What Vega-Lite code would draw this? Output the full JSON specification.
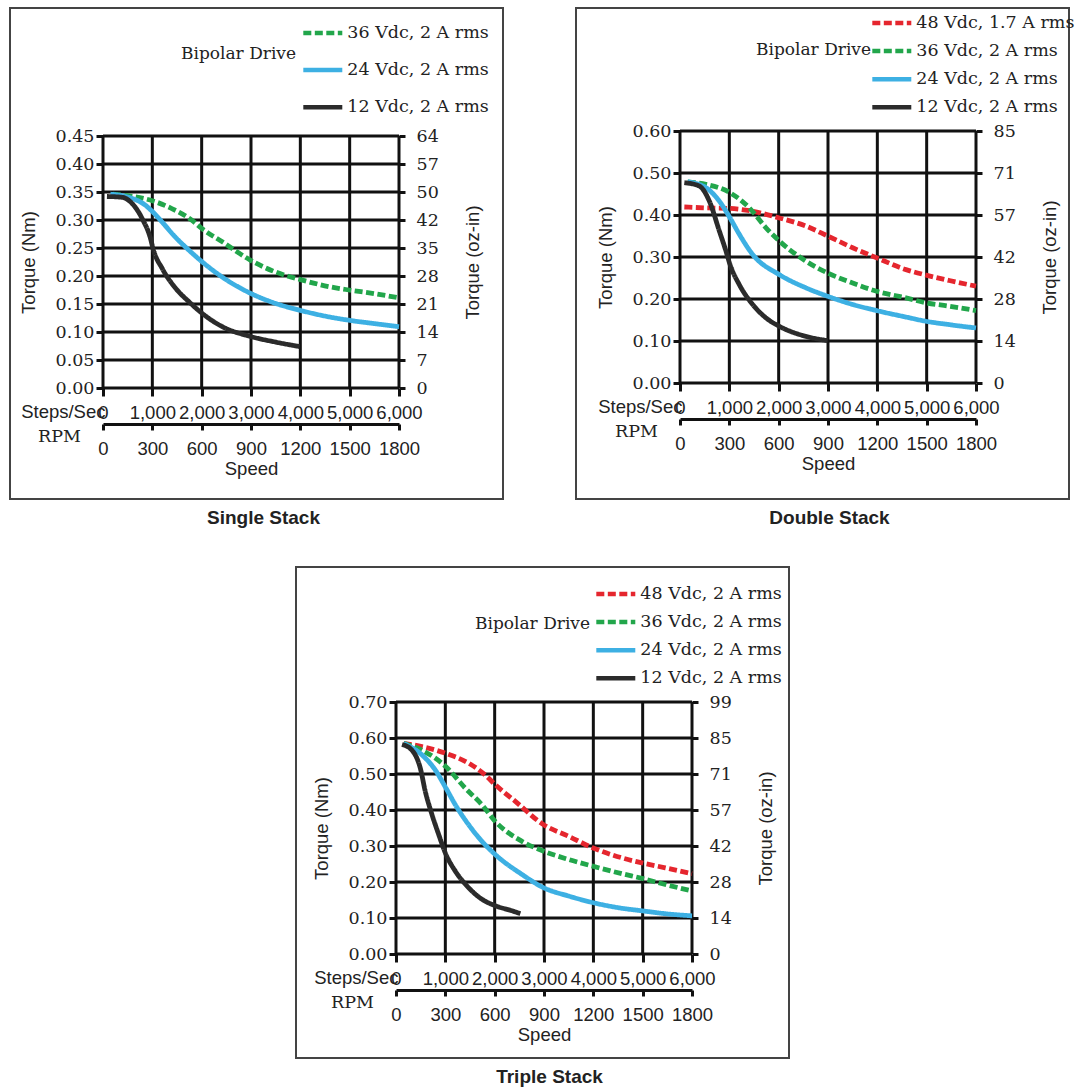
{
  "$schema": "https://vega.github.io/schema/vega-lite/v6.json",
  "background": "white",
  "padding": {"left": 9, "top": 7, "right": 0, "bottom": 0},
  "config": {
    "view": {"stroke": "#444", "strokeWidth": 2},
    "axis": {"grid": false, "labelColor": "#222", "titleColor": "#222", "tickColor": "#111", "domainColor": "#111", "labelFlush": false, "labelOverlap": false, "labelBound": false},
    "font": "Liberation Sans"
  },
  "bounds": "full",
  "center": true,
  "spacing": 37,
  "resolve": {"scale": {"color": "independent", "strokeDash": "independent"}},
  "vconcat": [
    {
      "hconcat": [
        {
          "width": 493, "height": 491,
          "title": {"text": "Single Stack", "orient": "bottom", "frame": "group", "offset": 10, "dx": 7, "font": "Liberation Sans", "fontSize": 19, "fontWeight": "bold", "color": "#222"},
          "resolve": {"axis": {"x": "independent", "y": "independent"}},
          "layer": [
            {
              "data": {"values": [{"steps": 0}, {"steps": 1000}, {"steps": 2000}, {"steps": 3000}, {"steps": 4000}, {"steps": 5000}, {"steps": 6000}]},
              "mark": {"type": "rule", "color": "#111", "strokeWidth": 3},
              "encoding": {
                "x": {"field": "steps", "type": "quantitative", "scale": {"domain": [0, 6000], "range": [93, 389], "nice": false, "zero": false},
                  "axis": {"orient": "bottom", "offset": -75, "values": [0, 1000, 2000, 3000, 4000, 5000, 6000], "labelExpr": "format(datum.value * 0.3, 'd')", "domain": true, "domainWidth": 3, "ticks": true, "tickSize": 6, "tickWidth": 3, "labelPadding": 9.5, "labelFont": "Liberation Sans", "labelFontSize": 18.5, "title": "Speed", "titleX": 241, "titleY": 44, "titleAlign": "center", "titleBaseline": "middle", "titleFont": "Liberation Sans", "titleFontSize": 18.5, "titleFontWeight": "normal"}},
                "y": {"datum": 0, "type": "quantitative", "axis": null},
                "y2": {"datum": 0.45}
              }
            },
            {
              "data": {"values": [{"nm": 0}, {"nm": 0.05}, {"nm": 0.1}, {"nm": 0.15}, {"nm": 0.2}, {"nm": 0.25}, {"nm": 0.3}, {"nm": 0.35}, {"nm": 0.4}, {"nm": 0.45}]},
              "mark": {"type": "rule", "color": "#111", "strokeWidth": 3},
              "encoding": {
                "y": {"field": "nm", "type": "quantitative",
                  "axis": {"orient": "right", "offset": -104, "values": [0, 0.05, 0.1, 0.15, 0.2, 0.25, 0.3, 0.35, 0.4, 0.45], "labelExpr": "format(datum.value * 141.6, 'd')", "domain": false, "tickSize": 6, "tickWidth": 3, "labelPadding": 11, "labelFont": "DejaVu Serif", "labelFontSize": 17.5, "title": "Torque (oz-in)", "titleX": 73, "titleAngle": -90, "titleAlign": "center", "titleBaseline": "middle", "titleFont": "Liberation Sans", "titleFontSize": 18.5, "titleFontWeight": "normal"}},
                "x": {"datum": 0, "type": "quantitative",
                  "axis": {"orient": "bottom", "offset": -75, "labels": false, "ticks": false, "domain": false, "title": "RPM", "titleX": 49, "titleY": 12, "titleAlign": "center", "titleBaseline": "middle", "titleFont": "DejaVu Serif", "titleFontSize": 17.5, "titleFontWeight": "normal"}},
                "x2": {"datum": 6000}
              }
            },
            {
              "data": {"values": [
                {"series": "36 Vdc, 2 A rms", "steps": 200, "torque": 0.346},
                {"series": "36 Vdc, 2 A rms", "steps": 527, "torque": 0.343},
                {"series": "36 Vdc, 2 A rms", "steps": 1014, "torque": 0.334},
                {"series": "36 Vdc, 2 A rms", "steps": 1405, "torque": 0.32},
                {"series": "36 Vdc, 2 A rms", "steps": 1811, "torque": 0.299},
                {"series": "36 Vdc, 2 A rms", "steps": 2014, "torque": 0.284},
                {"series": "36 Vdc, 2 A rms", "steps": 2419, "torque": 0.261},
                {"series": "36 Vdc, 2 A rms", "steps": 2993, "torque": 0.228},
                {"series": "36 Vdc, 2 A rms", "steps": 3500, "torque": 0.207},
                {"series": "36 Vdc, 2 A rms", "steps": 3986, "torque": 0.194},
                {"series": "36 Vdc, 2 A rms", "steps": 4581, "torque": 0.181},
                {"series": "36 Vdc, 2 A rms", "steps": 4986, "torque": 0.175},
                {"series": "36 Vdc, 2 A rms", "steps": 5459, "torque": 0.169},
                {"series": "36 Vdc, 2 A rms", "steps": 6000, "torque": 0.161},
                {"series": "24 Vdc, 2 A rms", "steps": 150, "torque": 0.346},
                {"series": "24 Vdc, 2 A rms", "steps": 527, "torque": 0.3405},
                {"series": "24 Vdc, 2 A rms", "steps": 865, "torque": 0.326},
                {"series": "24 Vdc, 2 A rms", "steps": 1014, "torque": 0.314},
                {"series": "24 Vdc, 2 A rms", "steps": 1203, "torque": 0.296},
                {"series": "24 Vdc, 2 A rms", "steps": 1439, "torque": 0.272},
                {"series": "24 Vdc, 2 A rms", "steps": 1743, "torque": 0.246},
                {"series": "24 Vdc, 2 A rms", "steps": 2014, "torque": 0.225},
                {"series": "24 Vdc, 2 A rms", "steps": 2419, "torque": 0.198},
                {"series": "24 Vdc, 2 A rms", "steps": 2993, "torque": 0.169},
                {"series": "24 Vdc, 2 A rms", "steps": 3500, "torque": 0.151},
                {"series": "24 Vdc, 2 A rms", "steps": 3986, "torque": 0.139},
                {"series": "24 Vdc, 2 A rms", "steps": 4581, "torque": 0.127},
                {"series": "24 Vdc, 2 A rms", "steps": 4986, "torque": 0.121},
                {"series": "24 Vdc, 2 A rms", "steps": 5459, "torque": 0.1155},
                {"series": "24 Vdc, 2 A rms", "steps": 6000, "torque": 0.1095},
                {"series": "12 Vdc, 2 A rms", "steps": 80, "torque": 0.342},
                {"series": "12 Vdc, 2 A rms", "steps": 392, "torque": 0.3405},
                {"series": "12 Vdc, 2 A rms", "steps": 595, "torque": 0.329},
                {"series": "12 Vdc, 2 A rms", "steps": 797, "torque": 0.302},
                {"series": "12 Vdc, 2 A rms", "steps": 966, "torque": 0.266},
                {"series": "12 Vdc, 2 A rms", "steps": 1014, "torque": 0.249},
                {"series": "12 Vdc, 2 A rms", "steps": 1203, "torque": 0.213},
                {"series": "12 Vdc, 2 A rms", "steps": 1473, "torque": 0.178},
                {"series": "12 Vdc, 2 A rms", "steps": 1743, "torque": 0.154},
                {"series": "12 Vdc, 2 A rms", "steps": 2014, "torque": 0.133},
                {"series": "12 Vdc, 2 A rms", "steps": 2419, "torque": 0.1095},
                {"series": "12 Vdc, 2 A rms", "steps": 2993, "torque": 0.092},
                {"series": "12 Vdc, 2 A rms", "steps": 3500, "torque": 0.082},
                {"series": "12 Vdc, 2 A rms", "steps": 3986, "torque": 0.074}
              ]},
              "mark": {"type": "line", "strokeWidth": 4.8, "interpolate": "monotone"},
              "encoding": {
                "x": {"field": "steps", "type": "quantitative", "scale": {"domain": [0, 6000], "range": [93, 389], "nice": false, "zero": false},
                  "axis": {"orient": "bottom", "offset": -111, "values": [0, 1000, 2000, 3000, 4000, 5000, 6000], "format": ",d", "domain": false, "tickSize": 8, "tickWidth": 3, "labelPadding": 7, "labelFont": "Liberation Sans", "labelFontSize": 18.5, "title": "Steps/Sec", "titleX": 95, "titleY": 23, "titleAlign": "right", "titleBaseline": "middle", "titleFont": "Liberation Sans", "titleFontSize": 18.5, "titleFontWeight": "normal"}},
                "y": {"field": "torque", "type": "quantitative", "scale": {"domain": [0, 0.45], "range": [380, 128], "nice": false, "zero": false},
                  "axis": {"orient": "left", "offset": -93, "values": [0, 0.05, 0.1, 0.15, 0.2, 0.25, 0.3, 0.35, 0.4, 0.45], "format": ".2f", "domain": false, "tickSize": 7, "tickWidth": 3, "labelPadding": 2, "labelFont": "DejaVu Serif", "labelFontSize": 17.5, "title": "Torque (Nm)", "titleX": -75, "titleAngle": -90, "titleAlign": "center", "titleBaseline": "middle", "titleFont": "Liberation Sans", "titleFontSize": 18.5, "titleFontWeight": "normal"}},
                "color": {"field": "series", "type": "nominal",
                  "scale": {"domain": ["36 Vdc, 2 A rms", "24 Vdc, 2 A rms", "12 Vdc, 2 A rms"], "range": ["#22a64b", "#3db0e3", "#2b2b2b"]},
                  "legend": {"orient": "none", "legendX": 171, "legendY": 13, "title": "Bipolar Drive", "titleOrient": "left", "titleAnchor": "middle", "titleBaseline": "line-bottom", "titleLineHeight": 29, "titlePadding": 13.8, "titleFont": "DejaVu Serif", "titleFontSize": 17, "titleFontWeight": "normal", "titleColor": "#222", "labelFont": "DejaVu Serif", "labelFontSize": 17.5, "labelColor": "#222", "labelOffset": 12.5, "labelLimit": 300, "symbolType": "M-2,0H2", "symbolSize": 380, "symbolStrokeWidth": 4.5, "rowPadding": 16.1, "padding": 0}},
                "strokeDash": {"field": "series", "type": "nominal",
                  "scale": {"domain": ["36 Vdc, 2 A rms", "24 Vdc, 2 A rms", "12 Vdc, 2 A rms"], "range": [[8, 3.5], [1, 0], [1, 0]]}}
              }
            }
          ]
        },
        {
          "width": 493, "height": 491,
          "title": {"text": "Double Stack", "orient": "bottom", "frame": "group", "offset": 10, "dx": 7, "font": "Liberation Sans", "fontSize": 19, "fontWeight": "bold", "color": "#222"},
          "resolve": {"axis": {"x": "independent", "y": "independent"}},
          "layer": [
            {
              "data": {"values": [{"steps": 0}, {"steps": 1000}, {"steps": 2000}, {"steps": 3000}, {"steps": 4000}, {"steps": 5000}, {"steps": 6000}]},
              "mark": {"type": "rule", "color": "#111", "strokeWidth": 3},
              "encoding": {
                "x": {"field": "steps", "type": "quantitative", "scale": {"domain": [0, 6000], "range": [104, 400], "nice": false, "zero": false},
                  "axis": {"orient": "bottom", "offset": -80, "values": [0, 1000, 2000, 3000, 4000, 5000, 6000], "labelExpr": "format(datum.value * 0.3, 'd')", "domain": true, "domainWidth": 3, "ticks": true, "tickSize": 6, "tickWidth": 3, "labelPadding": 9.5, "labelFont": "Liberation Sans", "labelFontSize": 18.5, "title": "Speed", "titleX": 252, "titleY": 44, "titleAlign": "center", "titleBaseline": "middle", "titleFont": "Liberation Sans", "titleFontSize": 18.5, "titleFontWeight": "normal"}},
                "y": {"datum": 0, "type": "quantitative", "axis": null},
                "y2": {"datum": 0.6}
              }
            },
            {
              "data": {"values": [{"nm": 0}, {"nm": 0.1}, {"nm": 0.2}, {"nm": 0.3}, {"nm": 0.4}, {"nm": 0.5}, {"nm": 0.6}]},
              "mark": {"type": "rule", "color": "#111", "strokeWidth": 3},
              "encoding": {
                "y": {"field": "nm", "type": "quantitative",
                  "axis": {"orient": "right", "offset": -93, "values": [0, 0.1, 0.2, 0.3, 0.4, 0.5, 0.6], "labelExpr": "format(datum.value * 141.6, 'd')", "domain": false, "tickSize": 6, "tickWidth": 3, "labelPadding": 11, "labelFont": "DejaVu Serif", "labelFontSize": 17.5, "title": "Torque (oz-in)", "titleX": 73, "titleAngle": -90, "titleAlign": "center", "titleBaseline": "middle", "titleFont": "Liberation Sans", "titleFontSize": 18.5, "titleFontWeight": "normal"}},
                "x": {"datum": 0, "type": "quantitative",
                  "axis": {"orient": "bottom", "offset": -80, "labels": false, "ticks": false, "domain": false, "title": "RPM", "titleX": 60, "titleY": 12, "titleAlign": "center", "titleBaseline": "middle", "titleFont": "DejaVu Serif", "titleFontSize": 17.5, "titleFontWeight": "normal"}},
                "x2": {"datum": 6000}
              }
            },
            {
              "data": {"values": [
                {"series": "48 Vdc, 1.7 A rms", "steps": 88, "torque": 0.419},
                {"series": "48 Vdc, 1.7 A rms", "steps": 527, "torque": 0.417},
                {"series": "48 Vdc, 1.7 A rms", "steps": 1014, "torque": 0.4156},
                {"series": "48 Vdc, 1.7 A rms", "steps": 1473, "torque": 0.409},
                {"series": "48 Vdc, 1.7 A rms", "steps": 2014, "torque": 0.393},
                {"series": "48 Vdc, 1.7 A rms", "steps": 2554, "torque": 0.3735},
                {"series": "48 Vdc, 1.7 A rms", "steps": 2993, "torque": 0.35},
                {"series": "48 Vdc, 1.7 A rms", "steps": 3500, "torque": 0.322},
                {"series": "48 Vdc, 1.7 A rms", "steps": 3986, "torque": 0.298},
                {"series": "48 Vdc, 1.7 A rms", "steps": 4581, "torque": 0.27},
                {"series": "48 Vdc, 1.7 A rms", "steps": 4986, "torque": 0.257},
                {"series": "48 Vdc, 1.7 A rms", "steps": 5459, "torque": 0.244},
                {"series": "48 Vdc, 1.7 A rms", "steps": 6000, "torque": 0.2305},
                {"series": "36 Vdc, 2 A rms", "steps": 155, "torque": 0.479},
                {"series": "36 Vdc, 2 A rms", "steps": 527, "torque": 0.473},
                {"series": "36 Vdc, 2 A rms", "steps": 1014, "torque": 0.453},
                {"series": "36 Vdc, 2 A rms", "steps": 1405, "torque": 0.417},
                {"series": "36 Vdc, 2 A rms", "steps": 1743, "torque": 0.3695},
                {"series": "36 Vdc, 2 A rms", "steps": 2014, "torque": 0.338},
                {"series": "36 Vdc, 2 A rms", "steps": 2554, "torque": 0.29},
                {"series": "36 Vdc, 2 A rms", "steps": 2993, "torque": 0.262},
                {"series": "36 Vdc, 2 A rms", "steps": 3500, "torque": 0.238},
                {"series": "36 Vdc, 2 A rms", "steps": 3986, "torque": 0.2185},
                {"series": "36 Vdc, 2 A rms", "steps": 4581, "torque": 0.2026},
                {"series": "36 Vdc, 2 A rms", "steps": 4986, "torque": 0.191},
                {"series": "36 Vdc, 2 A rms", "steps": 5459, "torque": 0.183},
                {"series": "36 Vdc, 2 A rms", "steps": 6000, "torque": 0.1725},
                {"series": "24 Vdc, 2 A rms", "steps": 155, "torque": 0.479},
                {"series": "24 Vdc, 2 A rms", "steps": 527, "torque": 0.465},
                {"series": "24 Vdc, 2 A rms", "steps": 797, "torque": 0.433},
                {"series": "24 Vdc, 2 A rms", "steps": 1014, "torque": 0.393},
                {"series": "24 Vdc, 2 A rms", "steps": 1203, "torque": 0.354},
                {"series": "24 Vdc, 2 A rms", "steps": 1473, "torque": 0.306},
                {"series": "24 Vdc, 2 A rms", "steps": 2014, "torque": 0.258},
                {"series": "24 Vdc, 2 A rms", "steps": 2554, "torque": 0.2265},
                {"series": "24 Vdc, 2 A rms", "steps": 2993, "torque": 0.2066},
                {"series": "24 Vdc, 2 A rms", "steps": 3500, "torque": 0.187},
                {"series": "24 Vdc, 2 A rms", "steps": 3986, "torque": 0.1725},
                {"series": "24 Vdc, 2 A rms", "steps": 4581, "torque": 0.157},
                {"series": "24 Vdc, 2 A rms", "steps": 4986, "torque": 0.147},
                {"series": "24 Vdc, 2 A rms", "steps": 5459, "torque": 0.139},
                {"series": "24 Vdc, 2 A rms", "steps": 6000, "torque": 0.131},
                {"series": "12 Vdc, 2 A rms", "steps": 88, "torque": 0.477},
                {"series": "12 Vdc, 2 A rms", "steps": 392, "torque": 0.469},
                {"series": "12 Vdc, 2 A rms", "steps": 595, "torque": 0.433},
                {"series": "12 Vdc, 2 A rms", "steps": 797, "torque": 0.362},
                {"series": "12 Vdc, 2 A rms", "steps": 932, "torque": 0.314},
                {"series": "12 Vdc, 2 A rms", "steps": 1014, "torque": 0.282},
                {"series": "12 Vdc, 2 A rms", "steps": 1203, "torque": 0.234},
                {"series": "12 Vdc, 2 A rms", "steps": 1473, "torque": 0.187},
                {"series": "12 Vdc, 2 A rms", "steps": 1743, "torque": 0.155},
                {"series": "12 Vdc, 2 A rms", "steps": 2014, "torque": 0.135},
                {"series": "12 Vdc, 2 A rms", "steps": 2554, "torque": 0.111},
                {"series": "12 Vdc, 2 A rms", "steps": 2993, "torque": 0.101}
              ]},
              "mark": {"type": "line", "strokeWidth": 4.8, "interpolate": "monotone"},
              "encoding": {
                "x": {"field": "steps", "type": "quantitative", "scale": {"domain": [0, 6000], "range": [104, 400], "nice": false, "zero": false},
                  "axis": {"orient": "bottom", "offset": -116, "values": [0, 1000, 2000, 3000, 4000, 5000, 6000], "format": ",d", "domain": false, "tickSize": 8, "tickWidth": 3, "labelPadding": 7, "labelFont": "Liberation Sans", "labelFontSize": 18.5, "title": "Steps/Sec", "titleX": 106, "titleY": 23, "titleAlign": "right", "titleBaseline": "middle", "titleFont": "Liberation Sans", "titleFontSize": 18.5, "titleFontWeight": "normal"}},
                "y": {"field": "torque", "type": "quantitative", "scale": {"domain": [0, 0.6], "range": [375, 123], "nice": false, "zero": false},
                  "axis": {"orient": "left", "offset": -104, "values": [0, 0.1, 0.2, 0.3, 0.4, 0.5, 0.6], "format": ".2f", "domain": false, "tickSize": 7, "tickWidth": 3, "labelPadding": 2, "labelFont": "DejaVu Serif", "labelFontSize": 17.5, "title": "Torque (Nm)", "titleX": -75, "titleAngle": -90, "titleAlign": "center", "titleBaseline": "middle", "titleFont": "Liberation Sans", "titleFontSize": 18.5, "titleFontWeight": "normal"}},
                "color": {"field": "series", "type": "nominal",
                  "scale": {"domain": ["48 Vdc, 1.7 A rms", "36 Vdc, 2 A rms", "24 Vdc, 2 A rms", "12 Vdc, 2 A rms"], "range": ["#e5262e", "#22a64b", "#3db0e3", "#2b2b2b"]},
                  "legend": {"orient": "none", "legendX": 180, "legendY": 3, "title": "Bipolar Drive", "titleOrient": "left", "titleAnchor": "middle", "titleBaseline": "line-bottom", "titleLineHeight": 28, "titlePadding": 7.8, "titleFont": "DejaVu Serif", "titleFontSize": 17, "titleFontWeight": "normal", "titleColor": "#222", "labelFont": "DejaVu Serif", "labelFontSize": 17.5, "labelColor": "#222", "labelOffset": 12.5, "labelLimit": 300, "symbolType": "M-2,0H2", "symbolSize": 380, "symbolStrokeWidth": 4.5, "rowPadding": 7.1, "padding": 0}},
                "strokeDash": {"field": "series", "type": "nominal",
                  "scale": {"domain": ["48 Vdc, 1.7 A rms", "36 Vdc, 2 A rms", "24 Vdc, 2 A rms", "12 Vdc, 2 A rms"], "range": [[8, 3.5], [8, 3.5], [1, 0], [1, 0]]}}
              }
            }
          ]
        }
      ],
      "spacing": 73,
      "bounds": "flush",
      "resolve": {"scale": {"color": "independent", "strokeDash": "independent"}}
    },
    {
      "width": 493, "height": 491,
      "title": {"text": "Triple Stack", "orient": "bottom", "frame": "group", "offset": 10, "dx": 7, "font": "Liberation Sans", "fontSize": 19, "fontWeight": "bold", "color": "#222"},
      "resolve": {"axis": {"x": "independent", "y": "independent"}},
      "layer": [
        {
          "data": {"values": [{"steps": 0}, {"steps": 1000}, {"steps": 2000}, {"steps": 3000}, {"steps": 4000}, {"steps": 5000}, {"steps": 6000}]},
          "mark": {"type": "rule", "color": "#111", "strokeWidth": 3},
          "encoding": {
            "x": {"field": "steps", "type": "quantitative", "scale": {"domain": [0, 6000], "range": [100, 396], "nice": false, "zero": false},
              "axis": {"orient": "bottom", "offset": -68, "values": [0, 1000, 2000, 3000, 4000, 5000, 6000], "labelExpr": "format(datum.value * 0.3, 'd')", "domain": true, "domainWidth": 3, "ticks": true, "tickSize": 6, "tickWidth": 3, "labelPadding": 9.5, "labelFont": "Liberation Sans", "labelFontSize": 18.5, "title": "Speed", "titleX": 248, "titleY": 44, "titleAlign": "center", "titleBaseline": "middle", "titleFont": "Liberation Sans", "titleFontSize": 18.5, "titleFontWeight": "normal"}},
            "y": {"datum": 0, "type": "quantitative", "axis": null},
            "y2": {"datum": 0.7}
          }
        },
        {
          "data": {"values": [{"nm": 0}, {"nm": 0.1}, {"nm": 0.2}, {"nm": 0.3}, {"nm": 0.4}, {"nm": 0.5}, {"nm": 0.6}, {"nm": 0.7}]},
          "mark": {"type": "rule", "color": "#111", "strokeWidth": 3},
          "encoding": {
            "y": {"field": "nm", "type": "quantitative",
              "axis": {"orient": "right", "offset": -97, "values": [0, 0.1, 0.2, 0.3, 0.4, 0.5, 0.6, 0.7], "labelExpr": "format(datum.value * 141.6, 'd')", "domain": false, "tickSize": 6, "tickWidth": 3, "labelPadding": 11, "labelFont": "DejaVu Serif", "labelFontSize": 17.5, "title": "Torque (oz-in)", "titleX": 73, "titleAngle": -90, "titleAlign": "center", "titleBaseline": "middle", "titleFont": "Liberation Sans", "titleFontSize": 18.5, "titleFontWeight": "normal"}},
            "x": {"datum": 0, "type": "quantitative",
              "axis": {"orient": "bottom", "offset": -68, "labels": false, "ticks": false, "domain": false, "title": "RPM", "titleX": 56, "titleY": 12, "titleAlign": "center", "titleBaseline": "middle", "titleFont": "DejaVu Serif", "titleFontSize": 17.5, "titleFontWeight": "normal"}},
            "x2": {"datum": 6000}
          }
        },
        {
          "data": {"values": [
            {"series": "48 Vdc, 2 A rms", "steps": 155, "torque": 0.585},
            {"series": "48 Vdc, 2 A rms", "steps": 527, "torque": 0.576},
            {"series": "48 Vdc, 2 A rms", "steps": 1014, "torque": 0.557},
            {"series": "48 Vdc, 2 A rms", "steps": 1473, "torque": 0.53},
            {"series": "48 Vdc, 2 A rms", "steps": 1811, "torque": 0.497},
            {"series": "48 Vdc, 2 A rms", "steps": 2014, "torque": 0.47},
            {"series": "48 Vdc, 2 A rms", "steps": 2419, "torque": 0.424},
            {"series": "48 Vdc, 2 A rms", "steps": 2993, "torque": 0.359},
            {"series": "48 Vdc, 2 A rms", "steps": 3500, "torque": 0.327},
            {"series": "48 Vdc, 2 A rms", "steps": 3986, "torque": 0.295},
            {"series": "48 Vdc, 2 A rms", "steps": 4581, "torque": 0.267},
            {"series": "48 Vdc, 2 A rms", "steps": 4986, "torque": 0.253},
            {"series": "48 Vdc, 2 A rms", "steps": 5459, "torque": 0.2395},
            {"series": "48 Vdc, 2 A rms", "steps": 6000, "torque": 0.223},
            {"series": "36 Vdc, 2 A rms", "steps": 155, "torque": 0.585},
            {"series": "36 Vdc, 2 A rms", "steps": 527, "torque": 0.566},
            {"series": "36 Vdc, 2 A rms", "steps": 1014, "torque": 0.52},
            {"series": "36 Vdc, 2 A rms", "steps": 1405, "torque": 0.4605},
            {"series": "36 Vdc, 2 A rms", "steps": 1743, "torque": 0.4145},
            {"series": "36 Vdc, 2 A rms", "steps": 2014, "torque": 0.368},
            {"series": "36 Vdc, 2 A rms", "steps": 2554, "torque": 0.313},
            {"series": "36 Vdc, 2 A rms", "steps": 2993, "torque": 0.2855},
            {"series": "36 Vdc, 2 A rms", "steps": 3500, "torque": 0.2625},
            {"series": "36 Vdc, 2 A rms", "steps": 3986, "torque": 0.244},
            {"series": "36 Vdc, 2 A rms", "steps": 4581, "torque": 0.223},
            {"series": "36 Vdc, 2 A rms", "steps": 4986, "torque": 0.21},
            {"series": "36 Vdc, 2 A rms", "steps": 5459, "torque": 0.193},
            {"series": "36 Vdc, 2 A rms", "steps": 6000, "torque": 0.175},
            {"series": "24 Vdc, 2 A rms", "steps": 155, "torque": 0.585},
            {"series": "24 Vdc, 2 A rms", "steps": 527, "torque": 0.553},
            {"series": "24 Vdc, 2 A rms", "steps": 797, "torque": 0.511},
            {"series": "24 Vdc, 2 A rms", "steps": 1014, "torque": 0.4605},
            {"series": "24 Vdc, 2 A rms", "steps": 1203, "torque": 0.4145},
            {"series": "24 Vdc, 2 A rms", "steps": 1473, "torque": 0.359},
            {"series": "24 Vdc, 2 A rms", "steps": 1743, "torque": 0.313},
            {"series": "24 Vdc, 2 A rms", "steps": 2014, "torque": 0.276},
            {"series": "24 Vdc, 2 A rms", "steps": 2554, "torque": 0.221},
            {"series": "24 Vdc, 2 A rms", "steps": 2993, "torque": 0.184},
            {"series": "24 Vdc, 2 A rms", "steps": 3500, "torque": 0.161},
            {"series": "24 Vdc, 2 A rms", "steps": 3986, "torque": 0.143},
            {"series": "24 Vdc, 2 A rms", "steps": 4581, "torque": 0.127},
            {"series": "24 Vdc, 2 A rms", "steps": 4986, "torque": 0.12},
            {"series": "24 Vdc, 2 A rms", "steps": 5459, "torque": 0.112},
            {"series": "24 Vdc, 2 A rms", "steps": 6000, "torque": 0.106},
            {"series": "12 Vdc, 2 A rms", "steps": 122, "torque": 0.582},
            {"series": "12 Vdc, 2 A rms", "steps": 324, "torque": 0.566},
            {"series": "12 Vdc, 2 A rms", "steps": 493, "torque": 0.516},
            {"series": "12 Vdc, 2 A rms", "steps": 595, "torque": 0.451},
            {"series": "12 Vdc, 2 A rms", "steps": 730, "torque": 0.387},
            {"series": "12 Vdc, 2 A rms", "steps": 865, "torque": 0.332},
            {"series": "12 Vdc, 2 A rms", "steps": 1014, "torque": 0.276},
            {"series": "12 Vdc, 2 A rms", "steps": 1203, "torque": 0.23},
            {"series": "12 Vdc, 2 A rms", "steps": 1473, "torque": 0.184},
            {"series": "12 Vdc, 2 A rms", "steps": 1743, "torque": 0.152},
            {"series": "12 Vdc, 2 A rms", "steps": 2014, "torque": 0.134},
            {"series": "12 Vdc, 2 A rms", "steps": 2351, "torque": 0.12},
            {"series": "12 Vdc, 2 A rms", "steps": 2520, "torque": 0.112}
          ]},
          "mark": {"type": "line", "strokeWidth": 4.8, "interpolate": "monotone"},
          "encoding": {
            "x": {"field": "steps", "type": "quantitative", "scale": {"domain": [0, 6000], "range": [100, 396], "nice": false, "zero": false},
              "axis": {"orient": "bottom", "offset": -104, "values": [0, 1000, 2000, 3000, 4000, 5000, 6000], "format": ",d", "domain": false, "tickSize": 8, "tickWidth": 3, "labelPadding": 7, "labelFont": "Liberation Sans", "labelFontSize": 18.5, "title": "Steps/Sec", "titleX": 102, "titleY": 23, "titleAlign": "right", "titleBaseline": "middle", "titleFont": "Liberation Sans", "titleFontSize": 18.5, "titleFontWeight": "normal"}},
            "y": {"field": "torque", "type": "quantitative", "scale": {"domain": [0, 0.7], "range": [387, 135], "nice": false, "zero": false},
              "axis": {"orient": "left", "offset": -100, "values": [0, 0.1, 0.2, 0.3, 0.4, 0.5, 0.6, 0.7], "format": ".2f", "domain": false, "tickSize": 7, "tickWidth": 3, "labelPadding": 2, "labelFont": "DejaVu Serif", "labelFontSize": 17.5, "title": "Torque (Nm)", "titleX": -75, "titleAngle": -90, "titleAlign": "center", "titleBaseline": "middle", "titleFont": "Liberation Sans", "titleFontSize": 18.5, "titleFontWeight": "normal"}},
            "color": {"field": "series", "type": "nominal",
              "scale": {"domain": ["48 Vdc, 2 A rms", "36 Vdc, 2 A rms", "24 Vdc, 2 A rms", "12 Vdc, 2 A rms"], "range": ["#e5262e", "#22a64b", "#3db0e3", "#2b2b2b"]},
              "legend": {"orient": "none", "legendX": 179, "legendY": 15, "title": "Bipolar Drive", "titleOrient": "left", "titleAnchor": "middle", "titleBaseline": "line-bottom", "titleLineHeight": 22, "titlePadding": 12.8, "titleFont": "DejaVu Serif", "titleFontSize": 17, "titleFontWeight": "normal", "titleColor": "#222", "labelFont": "DejaVu Serif", "labelFontSize": 17.5, "labelColor": "#222", "labelOffset": 12.5, "labelLimit": 300, "symbolType": "M-2,0H2", "symbolSize": 380, "symbolStrokeWidth": 4.5, "rowPadding": 7.1, "padding": 0}},
            "strokeDash": {"field": "series", "type": "nominal",
              "scale": {"domain": ["48 Vdc, 2 A rms", "36 Vdc, 2 A rms", "24 Vdc, 2 A rms", "12 Vdc, 2 A rms"], "range": [[8, 3.5], [8, 3.5], [1, 0], [1, 0]]}}
          }
        }
      ]
    }
  ]
}
